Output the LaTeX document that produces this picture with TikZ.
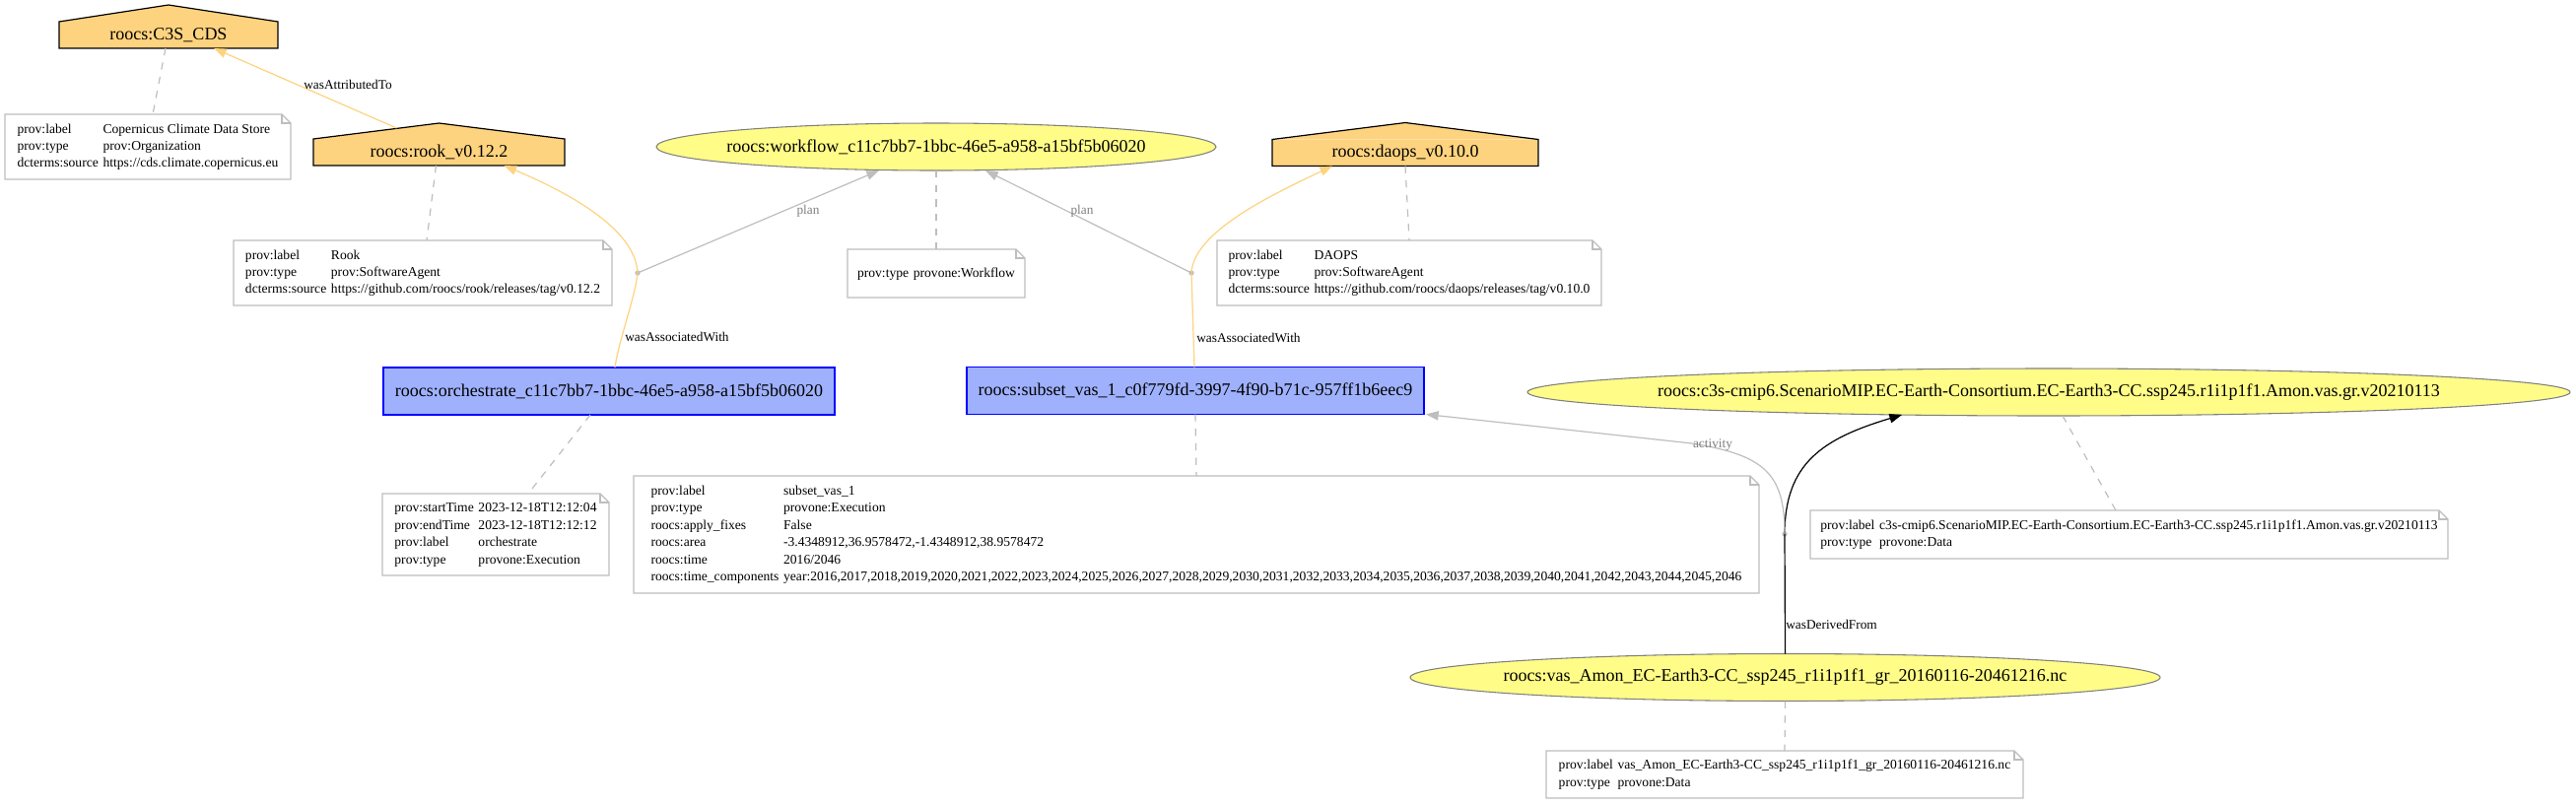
\documentclass[tikz,border=0pt]{standalone}
\usepackage{fontspec}
\setmainfont{Liberation Serif}
\usetikzlibrary{arrows.meta,calc,shapes.geometric}
\definecolor{agentfill}{HTML}{FED37F}
\definecolor{entfill}{HTML}{FFFC87}
\definecolor{actfill}{HTML}{9FB1FC}
\definecolor{actdraw}{HTML}{0000FF}
\definecolor{lgray}{HTML}{BEBEBE}
\definecolor{dgray}{HTML}{808080}
\newcommand\houseroof[2]{%
  \fill[agentfill] (#1.north west) -- ($(#1.north)+(0,-#2)$) -- (#1.north east) -- cycle;
  \draw[line width=0.9pt, line join=miter] (#1.south west) -- (#1.north west) -- ($(#1.north)+(0,-#2)$) -- (#1.north east) -- (#1.south east) -- cycle;}
\begin{document}
\begin{tikzpicture}[x=0.75pt,y=-0.75pt,
  bigtext/.style={font=\fontsize{13.5}{16}\selectfont, inner sep=0pt},
  agentbody/.style={bigtext, rectangle, fill=agentfill, inner sep=0pt, outer sep=0pt, minimum height=20.25pt},
  entity/.style={ellipse, fill=entfill, draw=dgray, line width=0.8pt, inner sep=0pt, outer sep=0pt, minimum height=36pt},
  activity/.style={bigtext, rectangle, fill=actfill, draw=actdraw, line width=1pt, inner sep=0pt, outer sep=0pt, minimum height=36pt},
  notebox/.style={rectangle, inner sep=0pt, outer sep=0pt, font=\fontsize{10.2}{13.1}\selectfont},
  notec/.style={draw=lgray, line width=0.9pt},
  annot/.style={draw=lgray, line width=0.9pt, dash pattern=on 5.5pt off 5.5pt},
  elabel/.style={font=\fontsize{10}{12}\selectfont, inner sep=0pt},
  glabel/.style={elabel, text=dgray},
  assocedge/.style={draw=agentfill, line width=0.9pt},
  grayedge/.style={draw=lgray, line width=0.9pt},
  blackedge/.style={draw=black, line width=0.9pt},
  tipo/.style={-{Triangle[length=9.5pt,width=7pt,fill=agentfill]}},
  tipg/.style={-{Triangle[length=9.5pt,width=7pt,fill=lgray]}},
  tipb/.style={-{Triangle[length=9.5pt,width=7pt,fill=black]}},
  joint/.style={circle, fill=lgray, inner sep=0pt, minimum size=4pt},
]
\fill[white] (0,0) rectangle (2614,815);
\useasboundingbox (0,0) rectangle (2614,815);

% ---------- agents ----------
\node[agentbody, minimum width=166.5pt] (c3sCDS) at (171,35.5) {roocs:C3S\_CDS};
\houseroof{c3sCDS}{17}
\node[agentbody, minimum width=191.25pt] (rook) at (445.5,154.5) {roocs:rook\_v0.12.2};
\houseroof{rook}{16}
\node[agentbody, minimum width=202.5pt] (daops) at (1426,155) {roocs:daops\_v0.10.0};
\houseroof{daops}{17}

% ---------- entities ----------
\node[entity, minimum width=426pt] (workflow) at (950,149) {};
\node[bigtext] (workflowtext) at (workflow.center) {roocs:workflow\_c11c7bb7-1bbc-46e5-a958-a15bf5b06020};
\node[entity, minimum width=793.5pt] (c3s) at (2079,398) {};
\node[bigtext] (c3stext) at (c3s.center) {roocs:c3s-cmip6.ScenarioMIP.EC-Earth-Consortium.EC-Earth3-CC.ssp245.r1i1p1f1.Amon.vas.gr.v20210113};
\node[entity, minimum width=570.75pt] (vas) at (1811.5,687.5) {};
\node[bigtext] (vastext) at (vas.center) {roocs:vas\_Amon\_EC-Earth3-CC\_ssp245\_r1i1p1f1\_gr\_20160116-20461216.nc};

% ---------- activities ----------
\node[activity, minimum width=343.5pt] (orch) at (618,397) {roocs:orchestrate\_c11c7bb7-1bbc-46e5-a958-a15bf5b06020};
\node[activity, minimum width=348pt] (subset) at (1213,396.5) {roocs:subset\_vas\_1\_c0f779fd-3997-4f90-b71c-957ff1b6eec9};

% ---------- notes ----------
\node[notebox, minimum width=217.5pt, minimum height=49.5pt] (n1) at (150,149) {\begin{tabular}{@{}l@{\hspace{3.5pt}}l@{}}
prov:label & Copernicus Climate Data Store\\
prov:type & prov:Organization\\
dcterms:source & https://cds.climate.copernicus.eu\end{tabular}};
\node[notebox, minimum width=288pt, minimum height=49.5pt] (n2) at (429,277) {\begin{tabular}{@{}l@{\hspace{3.5pt}}l@{}}
prov:label & Rook\\
prov:type & prov:SoftwareAgent\\
dcterms:source & https://github.com/roocs/rook/releases/tag/v0.12.2\end{tabular}};
\node[notebox, minimum width=135pt, minimum height=36.75pt] (n3) at (950,277.5) {\begin{tabular}{@{}l@{\hspace{3.5pt}}l@{}}
prov:type & provone:Workflow\end{tabular}};
\node[notebox, minimum width=292.5pt, minimum height=49.5pt] (n4) at (1430,277) {\begin{tabular}{@{}l@{\hspace{3.5pt}}l@{}}
prov:label & DAOPS\\
prov:type & prov:SoftwareAgent\\
dcterms:source & https://github.com/roocs/daops/releases/tag/v0.10.0\end{tabular}};
\node[notebox, minimum width=172.5pt, minimum height=62.25pt] (n5) at (503,542.5) {\begin{tabular}{@{}l@{\hspace{3.5pt}}l@{}}
prov:startTime & 2023-12-18T12:12:04\\
prov:endTime & 2023-12-18T12:12:12\\
prov:label & orchestrate\\
prov:type & provone:Execution\end{tabular}};
\node[notebox, minimum width=856.5pt, minimum height=89.25pt] (n6) at (1214,542.5) {\begin{tabular}{@{}l@{\hspace{3.5pt}}l@{}}
prov:label & subset\_vas\_1\\
prov:type & provone:Execution\\
roocs:apply\_fixes & False\\
roocs:area & -3.4348912,36.9578472,-1.4348912,38.9578472\\
roocs:time & 2016/2046\\
roocs:time\_components & year:2016,2017,2018,2019,2020,2021,2022,2023,2024,2025,2026,2027,2028,2029,2030,2031,2032,2033,2034,2035,2036,2037,2038,2039,2040,2041,2042,2043,2044,2045,2046\end{tabular}};
\node[notebox, minimum width=485.25pt, minimum height=36.75pt] (n7) at (2160.5,542.5) {\begin{tabular}{@{}l@{\hspace{3.5pt}}l@{}}
prov:label & c3s-cmip6.ScenarioMIP.EC-Earth-Consortium.EC-Earth3-CC.ssp245.r1i1p1f1.Amon.vas.gr.v20210113\\
prov:type & provone:Data\end{tabular}};
\node[notebox, minimum width=363pt, minimum height=36pt] (n8) at (1811,786) {\begin{tabular}{@{}l@{\hspace{3.5pt}}l@{}}
prov:label & vas\_Amon\_EC-Earth3-CC\_ssp245\_r1i1p1f1\_gr\_20160116-20461216.nc\\
prov:type & provone:Data\end{tabular}};

\foreach \n in {n1,n2,n3,n4,n5,n6,n7,n8}{
  \draw[notec, line join=miter] (\n.north west) -- ($(\n.north east)+(-9,0)$) -- ($(\n.north east)+(0,9)$) -- (\n.south east) -- (\n.south west) -- cycle;
  \draw[notec] ($(\n.north east)+(-9,0)$) -- ($(\n.north east)+(-9,9)$) -- ($(\n.north east)+(0,9)$);
}

% ---------- annotation links ----------
\draw[annot] ($(c3sCDS.south)+(-3,0)$) -- ($(n1.north)+(5,0)$);
\draw[annot] ($(rook.south)+(-3,0)$) -- ($(n2.north)+(4,0)$);
\draw[annot] (workflow.south) -- (n3.north);
\draw[annot] (daops.south) -- (n4.north);
\draw[annot] ($(orch.south)+(-19,0)$) -- ($(n5.north)+(33,0)$);
\draw[annot] (subset.south) -- (n6.north);
\draw[annot] ($(c3s.south)+(14,0)$) -- ($(n7.north)+(-13.5,0)$);
\draw[annot] (vas.south) -- (n8.north);

% ---------- joints ----------
\node[joint] (j1) at (647,277) {};
\node[joint] (j2) at (1209,277) {};
\node[joint] (j3) at (1811,542) {};

% ---------- wasAttributedTo ----------
\draw[assocedge, tipo] ($(rook.north)+(-43,-11)$) -- ($(c3sCDS.south)+(46,0)$);
\node[elabel, anchor=west] (lattr) at (308,86) {wasAttributedTo};

% ---------- wasAssociatedWith (orchestrate -> rook, plan workflow) ----------
\draw[assocedge] ($(orch.north)+(6,0)$) .. controls (628,345) and (645,300) .. (j1.center);
\draw[assocedge, tipo] (j1.center) .. controls (645,235) and (585,199) .. ($(rook.south)+(66,0)$);
\draw[grayedge, tipg] (j1.center) -- ($(workflow.south)+(-58,0)$);
\node[elabel, anchor=west] (lassoc1) at (634,342) {wasAssociatedWith};
\node[glabel] (lplan1) at (820,214) {plan};

% ---------- wasAssociatedWith (subset -> daops, plan workflow) ----------
\draw[assocedge] ($(subset.north)+(-1,0)$) -- (j2.center);
\draw[assocedge, tipo] (j2.center) .. controls (1211,235) and (1292,197) .. ($(daops.south)+(-74,0)$);
\draw[grayedge, tipg] (j2.center) -- ($(workflow.south)+(50,0)$);
\node[elabel, anchor=west] (lassoc2) at (1214,343) {wasAssociatedWith};
\node[glabel] (lplan2) at (1098,214) {plan};

% ---------- wasDerivedFrom (vas -> c3s, activity subset) ----------
\draw[blackedge] (vas.north) -- (j3.center);
\draw[blackedge, tipb] (j3.center) .. controls (1811,470) and (1850,445) .. ($(c3s.south)+(-149,-1)$);
\draw[grayedge, tipg] (j3.center) .. controls (1811,480) and (1790,462) .. (1717,450) -- ($(subset.south east)+(2,0)$);
\node[elabel, anchor=west] (lderiv) at (1812,634) {wasDerivedFrom};
\node[glabel] (lact) at (1738,452) {activity};
\end{tikzpicture}
\end{document}
